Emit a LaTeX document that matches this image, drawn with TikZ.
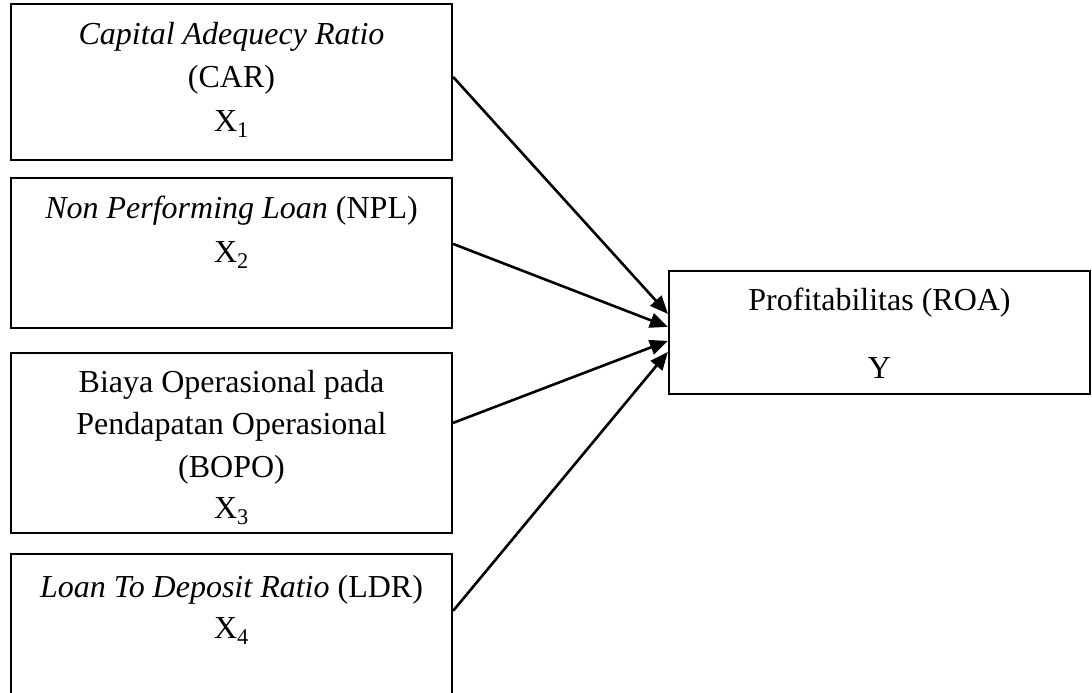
\documentclass[tikz,border=0pt]{standalone}
\usepackage{fontspec}
\setmainfont{Liberation Serif}
\usetikzlibrary{arrows.meta}
\begin{document}
\begin{tikzpicture}[x=1pt,y=-1pt,
  box/.style={draw=black,line width=2.2pt,rectangle,inner sep=0pt},
  lbl/.style={anchor=base,inner sep=0pt,font=\fontsize{32}{40}\selectfont},
  conn/.style={line width=2.6pt,-{Triangle[length=18pt,width=15pt]}}]
\useasboundingbox (0,0) rectangle (1092,693);
\clip (0,0) rectangle (1092,693);
% boxes
\node[box,minimum width=441pt,minimum height=156pt] (b1) at (231.5,82) {};
\node[box,minimum width=441pt,minimum height=150pt] (b2) at (231.5,253) {};
\node[box,minimum width=441pt,minimum height=180pt] (b3) at (231.5,443) {};
\node[box,minimum width=441pt,minimum height=160pt] (b4) at (231.5,634) {};
\node[box,minimum width=421pt,minimum height=123pt] (y) at (879.5,332.5) {};
% texts
\node[lbl] (t1a) at (231.5,45) {\textit{Capital Adequecy Ratio}};
\node[lbl] (t1b) at (231.5,88) {(CAR)};
\node[lbl] (t1c) at (231.5,131) {X\textsubscript{1}};
\node[lbl] (t2a) at (231.5,218) {\textit{Non Performing Loan} (NPL)};
\node[lbl] (t2b) at (231.5,262) {X\textsubscript{2}};
\node[lbl] (t3a) at (231.5,392) {Biaya Operasional pada};
\node[lbl] (t3b) at (231.5,434) {Pendapatan Operasional};
\node[lbl] (t3c) at (231.5,477) {(BOPO)};
\node[lbl] (t3d) at (231.5,518) {X\textsubscript{3}};
\node[lbl] (t4a) at (231.5,597) {\textit{Loan To Deposit Ratio} (LDR)};
\node[lbl] (t4b) at (231.5,638) {X\textsubscript{4}};
\node[lbl] (ya) at (879.5,310) {Profitabilitas (ROA)};
\node[lbl] (yb) at (879.5,378) {Y};
% connectors
\draw[conn] ([yshift=-74pt]b1.north east) -- ([yshift=-44pt]y.north west);
\draw[conn] ([yshift=-67pt]b2.north east) -- ([yshift=-57pt]y.north west);
\draw[conn] ([yshift=-71pt]b3.north east) -- ([yshift=-71pt]y.north west);
\draw[conn] ([yshift=-58pt]b4.north east) -- ([yshift=-82pt]y.north west);
\end{tikzpicture}
\end{document}
